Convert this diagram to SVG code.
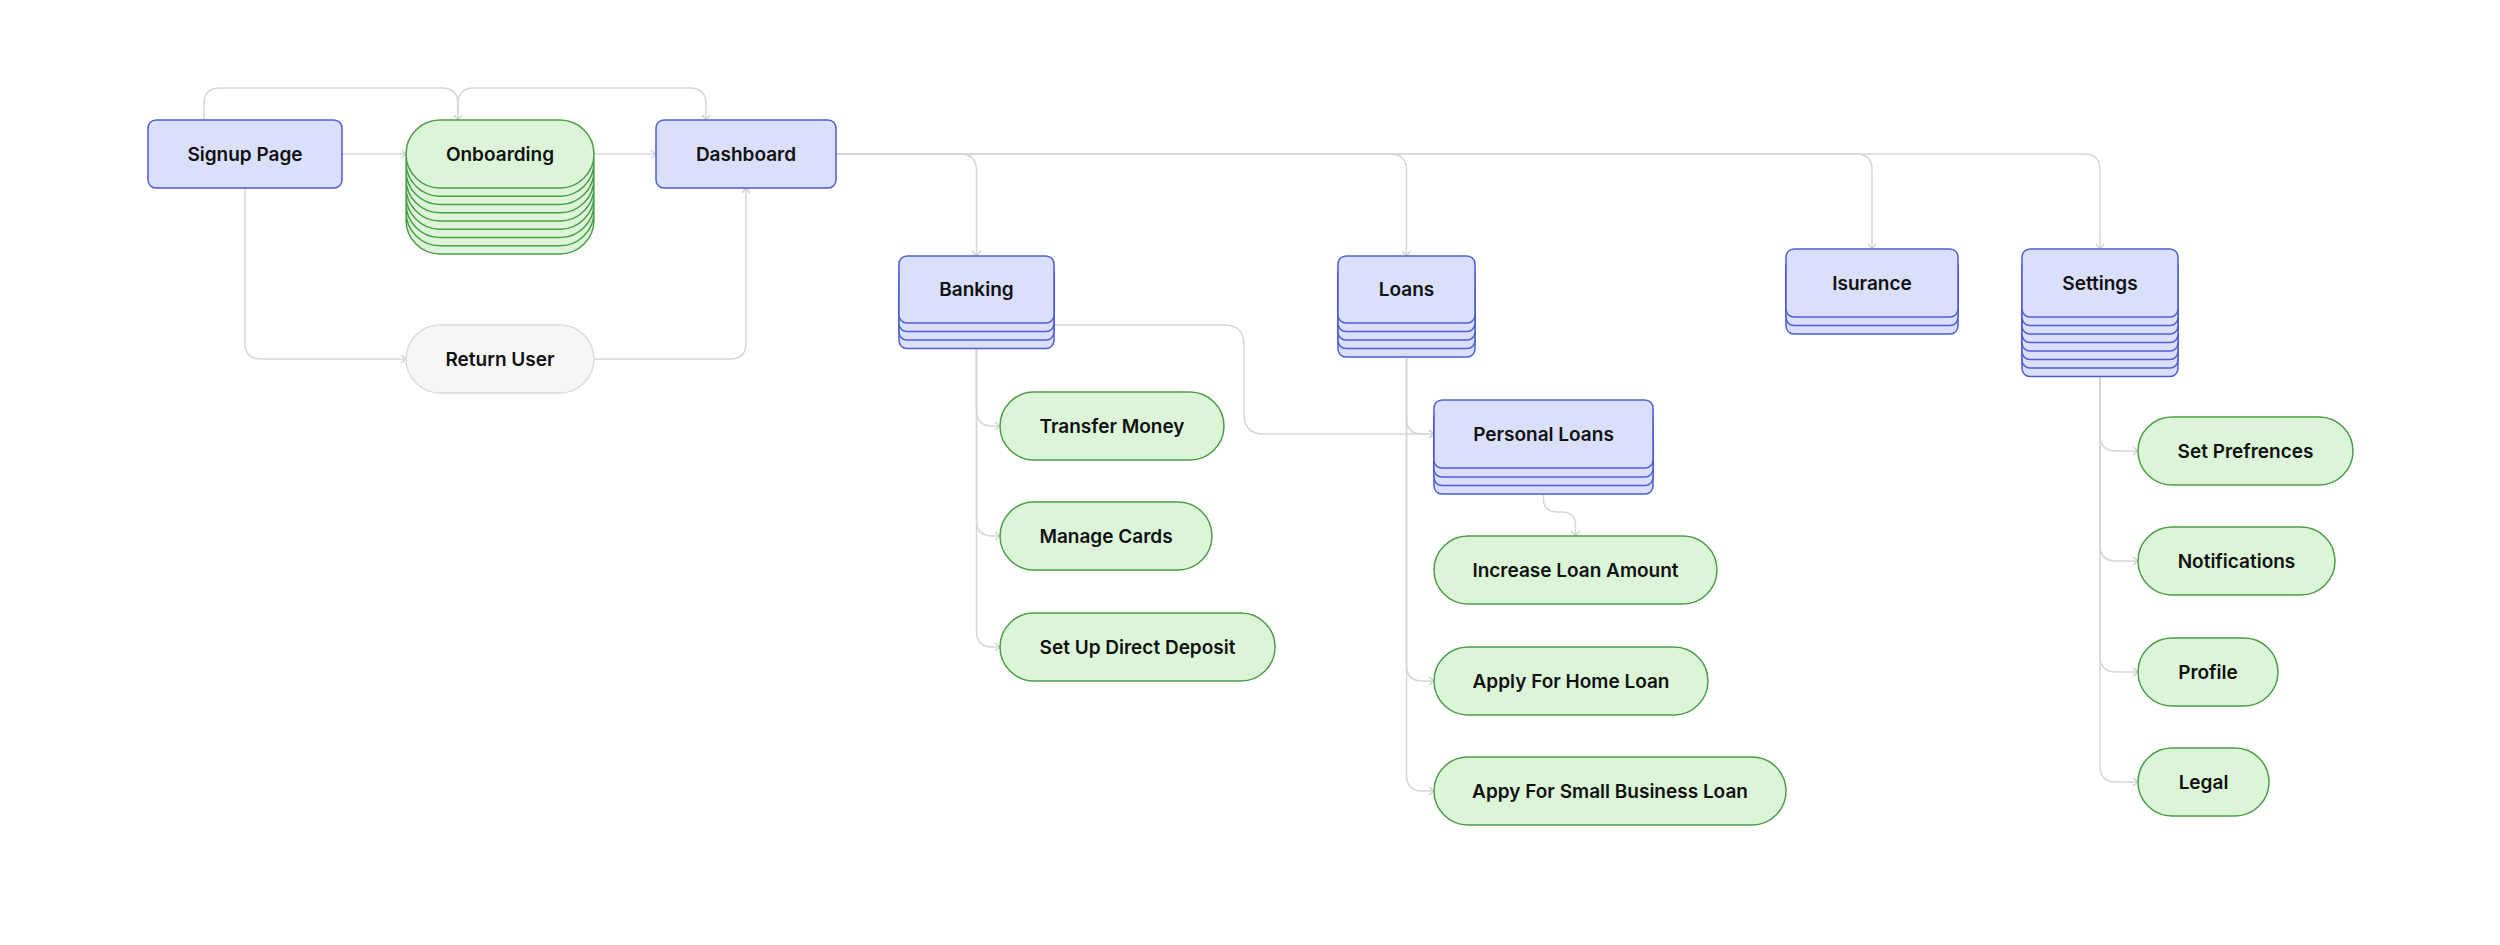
<svg xmlns="http://www.w3.org/2000/svg" width="2500" height="945" viewBox="0 0 2500 945">
<defs>
<style>
.b{fill:#dadffb;stroke:#4c5ed4;stroke-width:1.5}
.g{fill:#dcf5d8;stroke:#4b9d46;stroke-width:1.5}
.r{fill:#f6f6f6;stroke:#dcdcdc;stroke-width:1.5}
.t{font-family:Inter,"Noto Sans",sans-serif;font-weight:600;font-size:19px;fill:#111;text-anchor:middle;dominant-baseline:central}
.c{fill:none;stroke:#d6d6d6;stroke-width:1.5;marker-end:url(#a)}
</style>
<marker id="a" markerUnits="userSpaceOnUse" markerWidth="12" markerHeight="12" refX="10" refY="6" orient="auto" overflow="visible">
<path d="M5,2 L10,6 L5,10" fill="none" stroke="#cfcfcf" stroke-width="1.3"/>
</marker>
</defs>
<rect width="2500" height="945" fill="#ffffff"/>
<g id="connectors">
<path class="c" d="M204,120 V104 Q204,88 220,88 H442 Q458,88 458,104 V120"/>
<path class="c" d="M458,120 V104 Q458,88 474,88 H690 Q706,88 706,104 V120"/>
<path class="c" d="M342,154 H406"/>
<path class="c" d="M594,154 H656"/>
<path class="c" d="M245,188 V343 Q245,359 261,359 H406"/>
<path class="c" d="M594,359 H730 Q746,359 746,343 V188"/>
<path class="c" d="M836,154 H960 Q976.5,154 976.5,170 V256"/>
<path class="c" d="M836,154 H1390 Q1406.5,154 1406.5,170 V256"/>
<path class="c" d="M836,154 H1856 Q1872,154 1872,170 V249"/>
<path class="c" d="M836,154 H2084 Q2100,154 2100,170 V249"/>
<path class="c" d="M976.5,349 V410 Q976.5,426 992.5,426 H1000"/>
<path class="c" d="M976.5,349 V520 Q976.5,536 992.5,536 H1000"/>
<path class="c" d="M976.5,349 V631 Q976.5,647 992.5,647 H1000"/>
<path class="c" d="M1054,325 H1224 Q1244,325 1244,345 V414 Q1244,434 1264,434 H1434"/>
<path class="c" d="M1406.5,358 V418 Q1406.5,434 1422.5,434 H1434"/>
<path class="c" d="M1406.5,358 V665 Q1406.5,681 1422.5,681 H1434"/>
<path class="c" d="M1406.5,358 V775 Q1406.5,791 1422.5,791 H1434"/>
<path class="c" d="M1543.5,494 V499 Q1543.5,511 1556,512 H1563 Q1575.5,513 1575.5,525 V536"/>
<path class="c" d="M2100,376 V435 Q2100,451 2116,451 H2138"/>
<path class="c" d="M2100,376 V545 Q2100,561 2116,561 H2138"/>
<path class="c" d="M2100,376 V656 Q2100,672 2116,672 H2138"/>
<path class="c" d="M2100,376 V766 Q2100,782 2116,782 H2138"/>
</g>
<g id="signup">
<rect class="b" x="148" y="120" width="194" height="68" rx="8"/>
<text class="t" x="245" y="154">Signup Page</text>
</g>
<g id="onboarding">
<rect class="g" x="406" y="186" width="188" height="68" rx="34"/>
<rect class="g" x="406" y="177.75" width="188" height="68" rx="34"/>
<rect class="g" x="406" y="169.5" width="188" height="68" rx="34"/>
<rect class="g" x="406" y="161.25" width="188" height="68" rx="34"/>
<rect class="g" x="406" y="153" width="188" height="68" rx="34"/>
<rect class="g" x="406" y="144.75" width="188" height="68" rx="34"/>
<rect class="g" x="406" y="136.5" width="188" height="68" rx="34"/>
<rect class="g" x="406" y="128.25" width="188" height="68" rx="34"/>
<rect class="g" x="406" y="120" width="188" height="68" rx="34"/>
<text class="t" x="500" y="154">Onboarding</text>
</g>
<g id="dashboard">
<rect class="b" x="656" y="120" width="180" height="68" rx="8"/>
<text class="t" x="746" y="154">Dashboard</text>
</g>
<g id="return-user">
<rect class="r" x="406" y="325" width="188" height="68" rx="34"/>
<text class="t" x="500" y="359">Return User</text>
</g>
<g id="banking">
<rect class="b" x="899" y="281.5" width="155" height="67" rx="8"/>
<rect class="b" x="899" y="273" width="155" height="67" rx="8"/>
<rect class="b" x="899" y="264.5" width="155" height="67" rx="8"/>
<rect class="b" x="899" y="256" width="155" height="67" rx="8"/>
<text class="t" x="976.5" y="289.5">Banking</text>
</g>
<g id="loans">
<rect class="b" x="1338" y="290" width="137" height="67" rx="8"/>
<rect class="b" x="1338" y="281.5" width="137" height="67" rx="8"/>
<rect class="b" x="1338" y="273" width="137" height="67" rx="8"/>
<rect class="b" x="1338" y="264.5" width="137" height="67" rx="8"/>
<rect class="b" x="1338" y="256" width="137" height="67" rx="8"/>
<text class="t" x="1406.5" y="289.5">Loans</text>
</g>
<g id="personal-loans">
<rect class="b" x="1434" y="426" width="219" height="68" rx="8"/>
<rect class="b" x="1434" y="417.5" width="219" height="68" rx="8"/>
<rect class="b" x="1434" y="409" width="219" height="68" rx="8"/>
<rect class="b" x="1434" y="400" width="219" height="68" rx="8"/>
<text class="t" x="1543.5" y="434">Personal Loans</text>
</g>
<g id="isurance">
<rect class="b" x="1786" y="266" width="172" height="68" rx="8"/>
<rect class="b" x="1786" y="257.5" width="172" height="68" rx="8"/>
<rect class="b" x="1786" y="249" width="172" height="68" rx="8"/>
<text class="t" x="1872" y="283">Isurance</text>
</g>
<g id="settings">
<rect class="b" x="2022" y="308.5" width="156" height="68" rx="8"/>
<rect class="b" x="2022" y="300" width="156" height="68" rx="8"/>
<rect class="b" x="2022" y="291.5" width="156" height="68" rx="8"/>
<rect class="b" x="2022" y="283" width="156" height="68" rx="8"/>
<rect class="b" x="2022" y="274.5" width="156" height="68" rx="8"/>
<rect class="b" x="2022" y="266" width="156" height="68" rx="8"/>
<rect class="b" x="2022" y="257.5" width="156" height="68" rx="8"/>
<rect class="b" x="2022" y="249" width="156" height="68" rx="8"/>
<text class="t" x="2100" y="283">Settings</text>
</g>
<g id="transfer-money">
<rect class="g" x="1000" y="392" width="224" height="68" rx="34"/>
<text class="t" x="1112" y="426">Transfer Money</text>
</g>
<g id="manage-cards">
<rect class="g" x="1000" y="502" width="212" height="68" rx="34"/>
<text class="t" x="1106" y="536">Manage Cards</text>
</g>
<g id="direct-deposit">
<rect class="g" x="1000" y="613" width="275" height="68" rx="34"/>
<text class="t" x="1137.5" y="647">Set Up Direct Deposit</text>
</g>
<g id="increase-loan">
<rect class="g" x="1434" y="536" width="283" height="68" rx="34"/>
<text class="t" x="1575.5" y="570">Increase Loan Amount</text>
</g>
<g id="home-loan">
<rect class="g" x="1434" y="647" width="274" height="68" rx="34"/>
<text class="t" x="1571" y="681">Apply For Home Loan</text>
</g>
<g id="small-business-loan">
<rect class="g" x="1434" y="757" width="352" height="68" rx="34"/>
<text class="t" x="1610" y="791">Appy For Small Business Loan</text>
</g>
<g id="set-prefrences">
<rect class="g" x="2138" y="417" width="215" height="68" rx="34"/>
<text class="t" x="2245.5" y="451">Set Prefrences</text>
</g>
<g id="notifications">
<rect class="g" x="2138" y="527" width="197" height="68" rx="34"/>
<text class="t" x="2236.5" y="561">Notifications</text>
</g>
<g id="profile">
<rect class="g" x="2138" y="638" width="140" height="68" rx="34"/>
<text class="t" x="2208" y="672">Profile</text>
</g>
<g id="legal">
<rect class="g" x="2138" y="748" width="131" height="68" rx="34"/>
<text class="t" x="2203.5" y="782">Legal</text>
</g>
</svg>
